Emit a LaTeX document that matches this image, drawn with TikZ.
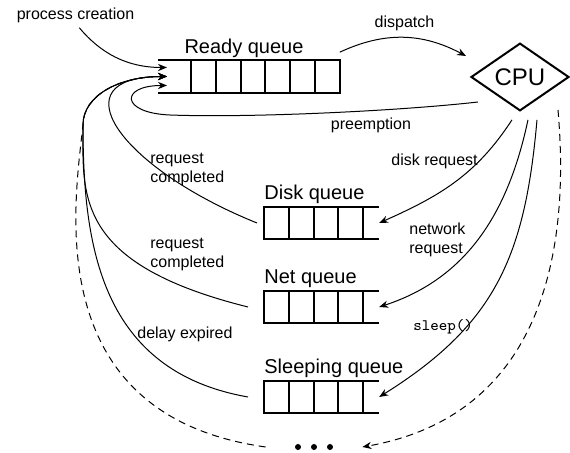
\documentclass[tikz,border=0pt]{standalone}
\usepackage{fontspec}
\setmainfont{Liberation Sans}
\usetikzlibrary{positioning,shapes.geometric,arrows.meta}

\tikzset{
  cell/.style={draw, line width=1pt, minimum width=12.4pt, minimum height=16.3pt, inner sep=0pt, outer sep=0pt},
  qline/.style={line width=1pt},
  qlabel/.style={font=\fontsize{10}{12}\selectfont, inner sep=0pt},
  lbl/.style={font=\fontsize{8}{9.5}\selectfont, inner sep=0pt, align=left},
  cpunode/.style={draw, diamond, line width=1pt, minimum width=49pt, minimum height=33.5pt, inner sep=0pt, font=\fontsize{12}{14}\selectfont},
  flow/.style={-{Stealth[length=4.5pt,width=3.6pt]}, line width=0.5pt},
  waitflow/.style={flow, dash pattern=on 3.5pt off 2.5pt},
}

\begin{document}
\begin{tikzpicture}[x=0.5pt,y=0.5pt]
\useasboundingbox (0,0) rectangle (570,-453);

% Ready queue (open on the left)
\node[cell, anchor=west] (r1) at (191,-76.5) {};
\node[cell, right=0pt of r1] (r2) {};
\node[cell, right=0pt of r2] (r3) {};
\node[cell, right=0pt of r3] (r4) {};
\node[cell, right=0pt of r4] (r5) {};
\node[cell, right=0pt of r5] (r6) {};
\draw[qline] (r1.north west) -- ++(-33,0);
\draw[qline] (r1.south west) -- ++(-33,0);
\node[qlabel, anchor=base] (readylbl) at (244,-54) {Ready queue};
\coordinate (inA) at ([xshift=-12pt,yshift=4.5pt]r1.west);
\coordinate (inB) at ([xshift=-12pt]r1.west);
\coordinate (inC) at ([xshift=-12pt,yshift=-4.5pt]r1.west);
\coordinate (merge) at (83,-125);

% Disk queue
\node[cell, anchor=west] (d1) at (264,-223) {};
\node[cell, right=0pt of d1] (d2) {};
\node[cell, right=0pt of d2] (d3) {};
\node[cell, right=0pt of d3] (d4) {};
\draw[qline] (d4.north east) -- ++(16,0);
\draw[qline] (d4.south east) -- ++(16,0);
\node[qlabel, anchor=base west] (disklbl) at ([yshift=3.5pt]d1.north west) {Disk queue};

% Net queue
\node[cell, anchor=west] (n1) at (264,-307) {};
\node[cell, right=0pt of n1] (n2) {};
\node[cell, right=0pt of n2] (n3) {};
\node[cell, right=0pt of n3] (n4) {};
\draw[qline] (n4.north east) -- ++(16,0);
\draw[qline] (n4.south east) -- ++(16,0);
\node[qlabel, anchor=base west] (netlbl) at ([yshift=3.5pt]n1.north west) {Net queue};

% Sleeping queue
\node[cell, anchor=west] (s1) at (264,-397) {};
\node[cell, right=0pt of s1] (s2) {};
\node[cell, right=0pt of s2] (s3) {};
\node[cell, right=0pt of s3] (s4) {};
\draw[qline] (s4.north east) -- ++(16,0);
\draw[qline] (s4.south east) -- ++(16,0);
\node[qlabel, anchor=base west] (sleeplbl) at ([yshift=3.5pt]s1.north west) {Sleeping queue};

% CPU and the other queues
\node[cpunode] (cpu) at (520,-77) {CPU};
\node[minimum width=48pt, minimum height=6pt, inner sep=0pt] (more) at (314,-447) {};
\fill (more.center) circle (1.5pt) ++(-16,0) circle (1.5pt) ++(32,0) circle (1.5pt);

% Labels
\node[lbl, anchor=base] (creation) at (75.5,-19.5) {process creation};
\node[lbl, anchor=base] (dispatch) at (404.5,-27.5) {dispatch};
\node[lbl, anchor=base] (preempt) at (371,-130) {preemption};
\node[lbl, anchor=base west] (diskreq) at (391,-166) {disk request};
\node[lbl, anchor=north west] (netreq) at (409,-223) {network\\request};
\node[lbl, anchor=base west] (sleepcall) at (413,-331) {\ttfamily sleep()};
\node[lbl, anchor=north west] (diskdone) at (150,-153) {request\\completed};
\node[lbl, anchor=north west] (netdone) at (150,-238) {request\\completed};
\node[lbl, anchor=base west] (delay) at (137,-339) {delay expired};

% Transitions
\draw[flow, shorten <=3pt] (creation.south) to[out=-50,in=180] (inA);
\draw[flow] ([yshift=4pt]r6.north east) to[out=25,in=152] ([xshift=-2pt,yshift=10.5pt]cpu.west);
\draw[flow] ([xshift=4pt,yshift=-12.5pt]cpu.west) .. controls +(-79,-9) and +(80,-3) .. (170,-115)
  .. controls +(-50,2) and +(-47,0) .. (inC);
\draw[flow] ([xshift=-4pt,yshift=-4pt]cpu.south) to[out=237,in=24] ([xshift=8pt]d4.east);
\draw[flow] ([xshift=4pt,yshift=-4pt]cpu.south) to[out=258,in=18] ([xshift=8pt]n4.east);
\draw[flow] ([xshift=8.5pt,yshift=-4pt]cpu.south) to[out=265,in=32,looseness=1.1] ([xshift=8pt]s4.east);
\draw[waitflow] ([xshift=-6pt,yshift=-16.5pt]cpu.east) to[out=-85,in=10,looseness=1.1] (more.east);

% Back to the ready queue
\draw[flow] ([xshift=-3.5pt]d1.west) .. controls +(158:150) and +(-110,0) .. (inB);
\draw[flow] ([xshift=-8pt]n1.west) .. controls +(166:180) and +(0,-70) .. (merge)
  .. controls +(0,30) and +(-47,0) .. (inB);
\draw[flow] ([xshift=-8pt]s1.west) .. controls +(170:150) and +(0,-120) .. (merge)
  .. controls +(0,30) and +(-47,0) .. (inB);
\draw[waitflow] (more.west) .. controls +(172:230) and +(-8,-75) .. (merge)
  .. controls +(0,30) and +(-47,0) .. (inB);
\end{tikzpicture}
\end{document}
